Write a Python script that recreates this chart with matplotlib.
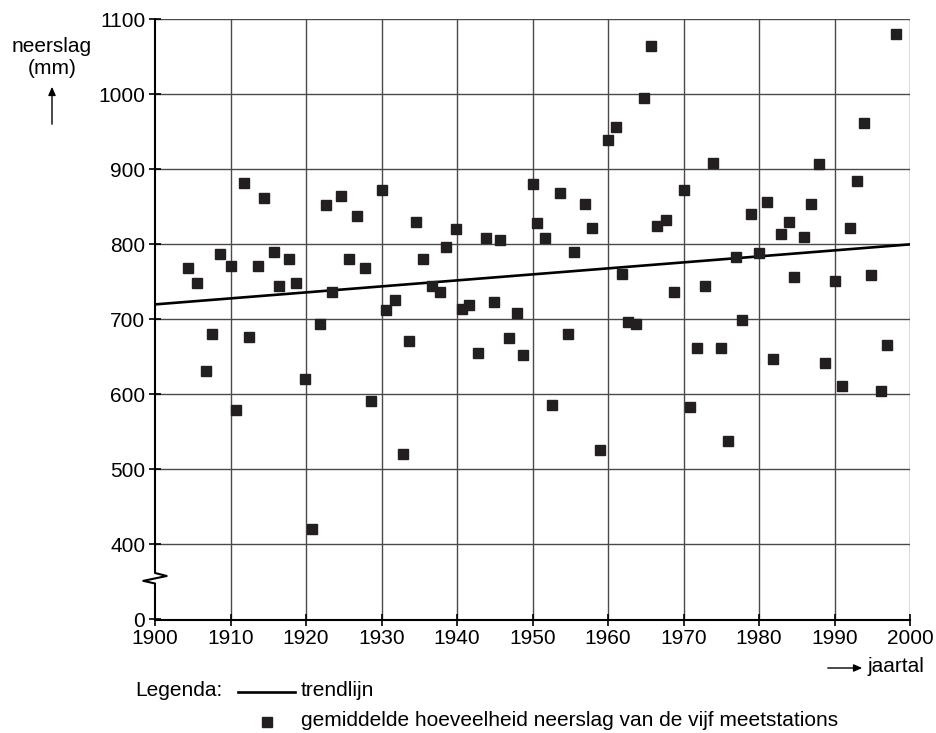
import matplotlib
matplotlib.use("Agg")
import matplotlib.pyplot as plt
from matplotlib.lines import Line2D
from matplotlib.patches import FancyArrowPatch

# ----- data -----
years = [1904.4, 1905.5, 1906.7, 1907.6, 1908.6, 1910.0, 1910.7, 1911.8, 1912.5, 1913.7,
         1914.5, 1915.7, 1916.4, 1917.7, 1918.7, 1919.9, 1920.8, 1921.9, 1922.7, 1923.5,
         1924.7, 1925.7, 1926.8, 1927.8, 1928.6, 1930.0, 1930.6, 1931.8, 1932.8, 1933.7,
         1934.6, 1935.5, 1936.7, 1937.7, 1938.6, 1939.9, 1940.6, 1941.6, 1942.8, 1943.9,
         1944.9, 1945.7, 1946.9, 1947.9, 1948.8, 1950.0, 1950.6, 1951.7, 1952.6, 1953.7,
         1954.7, 1955.5, 1956.9, 1957.9, 1959.0, 1960.0, 1961.0, 1961.8, 1962.7, 1963.7,
         1964.8, 1965.7, 1966.5, 1967.7, 1968.7, 1970.1, 1970.8, 1971.8, 1972.9, 1973.9,
         1975.0, 1975.9, 1977.0, 1977.8, 1978.9, 1980.0, 1981.0, 1981.9, 1982.9, 1984.0,
         1984.7, 1985.9, 1986.9, 1987.9, 1988.8, 1990.0, 1991.0, 1992.0, 1993.0, 1993.9,
         1994.9, 1996.1, 1997.0, 1998.1]
neerslag = [768, 749, 631, 680, 787, 771, 579, 882, 676, 771,
            862, 790, 745, 780, 749, 620, 420, 694, 852, 736,
            865, 781, 838, 769, 591, 872, 712, 726, 521, 671,
            830, 780, 745, 736, 797, 820, 714, 719, 655, 808,
            723, 806, 675, 708, 652, 880, 828, 809, 586, 868,
            680, 790, 854, 822, 526, 939, 957, 760, 696, 694,
            995, 1064, 825, 832, 736, 872, 583, 662, 745, 909,
            662, 538, 783, 699, 841, 789, 856, 647, 814, 830,
            757, 810, 854, 907, 642, 751, 611, 822, 885, 962,
            759, 605, 666, 1080]

trend_years = [1900, 2000]
trend_values = [720, 800]

x_ticks = list(range(1900, 2001, 10))
# the axis is broken: the bottom position (300) is labelled 0
y_ticks = [300, 400, 500, 600, 700, 800, 900, 1000, 1100]
y_tick_labels = ["0", "400", "500", "600", "700", "800", "900", "1000", "1100"]

plt.rcParams["font.family"] = ["Liberation Sans", "DejaVu Sans"]
FS = 15

W, H = 936, 733
fig = plt.figure(figsize=(W / 100, H / 100), dpi=100)
ax = fig.add_axes([155 / W, 1 - 619.5 / H, (910 - 155) / W, (619.5 - 19.3) / H])

ax.set_xlim(1900, 2000)
ax.set_ylim(300, 1100)

# grid
grid_col = "#4a4a4a"
for x in x_ticks[1:]:
    ax.axvline(x, color=grid_col, lw=1.0, zorder=1)
for y in y_ticks[1:]:
    ax.axhline(y, color=grid_col, lw=1.0, zorder=1)

# data
ax.plot(trend_years, trend_values, color="black", lw=1.9, zorder=3)
ax.plot(years, neerslag, ls="none", marker="s", ms=6.6, color="#231f20", zorder=4)

# spines
for s in ["top", "right", "left"]:
    ax.spines[s].set_visible(False)
ax.spines["bottom"].set_linewidth(1.5)
ax.spines["bottom"].set_zorder(5)

# left axis drawn by hand with zigzag break
zig_x = [1900, 1900, 1901.55, 1898.45, 1900, 1900]
zig_y = [1100, 362.0, 358.0, 351.5, 348.0, 300]
ax.add_line(Line2D(zig_x, zig_y, color="black", lw=1.5, clip_on=False, zorder=5))

ax.set_xticks(x_ticks)
ax.set_yticks(y_ticks)
ax.set_yticklabels(y_tick_labels)
ax.tick_params(direction="inout", length=8, width=1.2, labelsize=FS, color="black")
ax.tick_params(axis="x", pad=3)
ax.tick_params(axis="y", pad=3)

# axis titles
fig.text(52 / W, 1 - 47 / H, "neerslag", ha="center", va="center", fontsize=FS)
fig.text(52 / W, 1 - 69 / H, "(mm)", ha="center", va="center", fontsize=FS)
fig.patches.append(FancyArrowPatch(
    (52 / W, 1 - 127 / H), (52 / W, 1 - 84 / H), transform=fig.transFigure,
    arrowstyle="-|>,head_length=5,head_width=2.2", color="black", lw=1.0,
    mutation_scale=1))

fig.patches.append(FancyArrowPatch(
    (825 / W, 1 - 668 / H), (865 / W, 1 - 668 / H), transform=fig.transFigure,
    arrowstyle="-|>,head_length=5,head_width=2.2", color="black", lw=1.0,
    mutation_scale=1))
fig.text(868 / W, 1 - 667 / H, "jaartal", ha="left", va="center", fontsize=FS)

# legend drawn by hand
fig.text(135 / W, 1 - 691 / H, "Legenda:", ha="left", va="center", fontsize=FS)
fig.lines.append(Line2D([238 / W, 295 / W], [1 - 692 / H, 1 - 692 / H],
                        transform=fig.transFigure, color="black", lw=1.9))
fig.text(301 / W, 1 - 691 / H, "trendlijn", ha="left", va="center", fontsize=FS)
fig.lines.append(Line2D([266.7 / W], [1 - 722 / H], transform=fig.transFigure,
                        marker="s", ms=6.6, color="#231f20", ls="none"))
fig.text(301 / W, 1 - 721 / H, "gemiddelde hoeveelheid neerslag van de vijf meetstations",
         ha="left", va="center", fontsize=FS)

fig.savefig("out.png", dpi=100)
